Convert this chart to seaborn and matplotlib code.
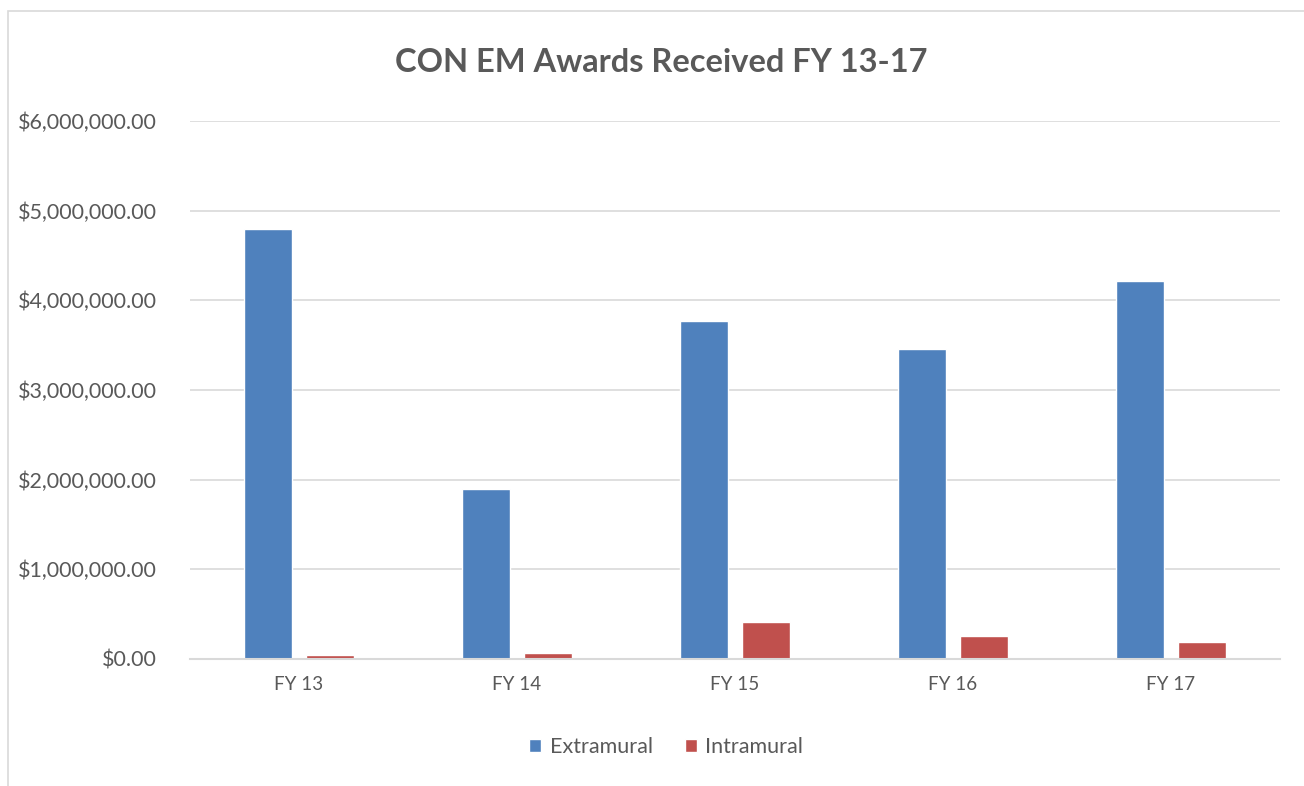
import pandas as pd
import matplotlib.pyplot as plt
import seaborn as sns
from matplotlib.patches import Rectangle
from matplotlib.ticker import FuncFormatter

# data
years = ["FY 13", "FY 14", "FY 15", "FY 16", "FY 17"]
extramural = [4792000, 1900000, 3765000, 3460000, 4220000]
intramural = [48000, 62000, 418000, 252000, 186000]
series = ["Extramural", "Intramural"]
colors = ["#4F81BD", "#C0504D"]

df = pd.DataFrame({
    "year": years * 2,
    "amount": extramural + intramural,
    "type": [series[0]] * len(years) + [series[1]] * len(years),
})

sns.set_theme(style="white")
plt.rcParams["font.family"] = ["Lato", "DejaVu Sans"]
text_col = "#595959"

fig = plt.figure(figsize=(13.04, 7.86), dpi=100)
ax = fig.add_axes([0.1457, 0.1616, 0.8359, 0.6845])

sns.barplot(data=df, x="year", y="amount", hue="type", palette=colors,
            width=0.568, gap=0.225, saturation=1, ax=ax, legend=True)

ax.set_ylim(0, 6000000)
ax.set_xlim(-0.5, 4.5)
ax.set_yticks(range(0, 6000001, 1000000))
ax.yaxis.set_major_formatter(FuncFormatter(lambda v, p: "${:,.2f}".format(v)))
ax.grid(axis="y", color="#D9D9D9", linewidth=1.2)
ax.set_axisbelow(True)
for s in ["top", "right", "left"]:
    ax.spines[s].set_visible(False)
ax.spines["bottom"].set_color("#D9D9D9")
ax.spines["bottom"].set_linewidth(1.5)
ax.set_xlabel("")
ax.set_ylabel("")
ax.tick_params(axis="both", length=0, colors=text_col)
ax.tick_params(axis="y", pad=24, labelsize=15.5)
ax.tick_params(axis="x", pad=12, labelsize=13.5)

ax.legend(loc="center", bbox_to_anchor=(0.437, -0.163), ncol=2, frameon=False,
          fontsize=15.5, labelcolor=text_col, handlelength=0.55, handleheight=0.55,
          handletextpad=0.4, columnspacing=1.5)

fig.text(0.507, 0.921, "CON EM Awards Received FY 13-17", ha="center", va="center",
         fontsize=23.5, fontweight="bold", color=text_col)

# outer chart border
fig.patches.append(Rectangle((8 / 1304, -0.01), 1.0, 1 - 11 / 786 + 0.01,
                             transform=fig.transFigure, fill=False,
                             edgecolor="#D9D9D9", linewidth=1.2))

plt.savefig("out.png", dpi=100)
plt.close()
